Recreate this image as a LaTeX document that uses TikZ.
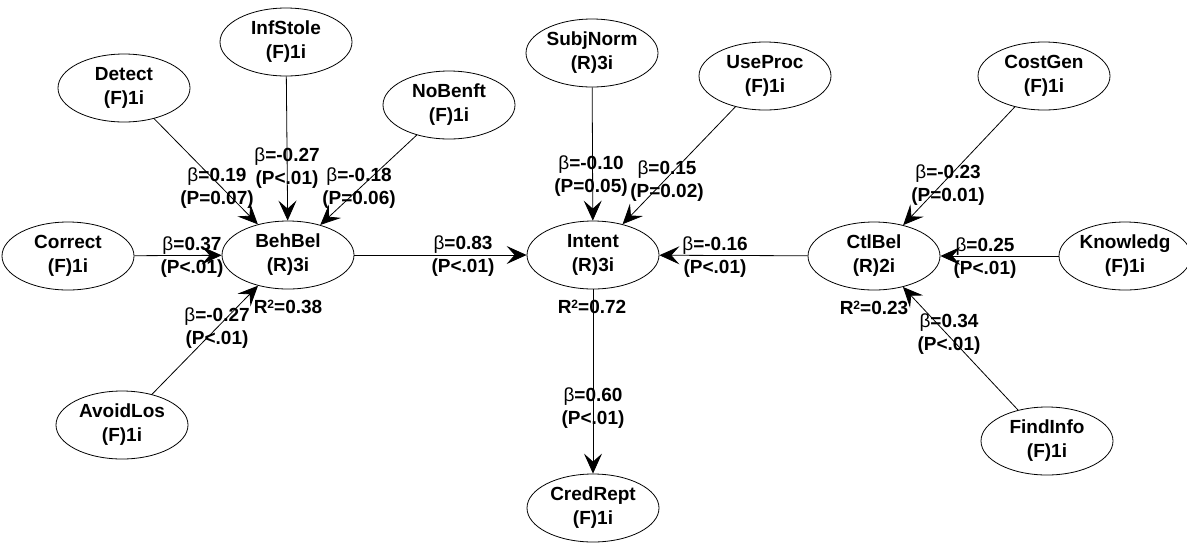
\documentclass[tikz,border=0pt]{standalone}
\usepackage{fontspec}
\setmainfont{Liberation Sans}
\usetikzlibrary{shapes.geometric,arrows.meta}
% beta in regular weight inside bold labels
\newcommand{\betasym}{{\mdseries β}}
% bold R squared
\newcommand{\rsq}{R\raisebox{0.55ex}{\fontsize{12}{12}\selectfont 2}}
\begin{document}
\begin{tikzpicture}[x=1pt,y=-1pt,
  construct/.style={ellipse,draw=black,line width=0.8pt,minimum width=132pt,
    minimum height=68pt,inner sep=0pt,align=center,
    font=\fontsize{19}{24}\selectfont\bfseries},
  effect/.style={draw=black,line width=0.8pt,
    -{Stealth[length=20pt,width=18pt,inset=8pt]}},
  coef/.style={align=center,inner sep=0pt,
    font=\fontsize{19}{23}\selectfont\bfseries},
]
\useasboundingbox (0,0) rectangle (1187,542);

% constructs
\node[construct] (detect)   at (124,88)   {Detect\\(F)1i};
\node[construct] (infstole) at (286,42)   {InfStole\\(F)1i};
\node[construct] (nobenft)  at (449,105)  {NoBenft\\(F)1i};
\node[construct] (correct)  at (68,256)   {Correct\\(F)1i};
\node[construct] (behbel)   at (288,255)  {BehBel\\(R)3i};
\node[construct] (avoidlos) at (122,425)  {AvoidLos\\(F)1i};
\node[construct] (subjnorm) at (592,53)   {SubjNorm\\(R)3i};
\node[construct] (useproc)  at (765,76)   {UseProc\\(F)1i};
\node[construct] (intent)   at (593,255)  {Intent\\(R)3i};
\node[construct] (credrept) at (593,508)  {CredRept\\(F)1i};
\node[construct] (costgen)  at (1044,76)  {CostGen\\(F)1i};
\node[construct] (ctlbel)   at (874,256)  {CtlBel\\(R)2i};
\node[construct] (knowledg) at (1125,256) {Knowledg\\(F)1i};
\node[construct] (findinfo) at (1047,441) {FindInfo\\(F)1i};

% structural paths
\draw[effect] (detect)   -- (behbel);
\draw[effect] (infstole) -- (behbel);
\draw[effect] (nobenft)  -- (behbel);
\draw[effect] (correct)  -- (behbel);
\draw[effect] (avoidlos) -- (behbel);
\draw[effect] (behbel)   -- (intent);
\draw[effect] (subjnorm) -- (intent);
\draw[effect] (useproc)  -- (intent);
\draw[effect] (ctlbel)   -- (intent);
\draw[effect] (intent)   -- (credrept);
\draw[effect] (costgen)  -- (ctlbel);
\draw[effect] (knowledg) -- (ctlbel);
\draw[effect] (findinfo) -- (ctlbel);

% path coefficients
\node[coef] (cdetect)   at (217,188) {\betasym=0.19\\(P=0.07)};
\node[coef] (cinfstole) at (287,168) {\betasym=-0.27\\(P<.01)};
\node[coef] (cnobenft)  at (359,188) {\betasym=-0.18\\(P=0.06)};
\node[coef] (ccorrect)  at (192,257) {\betasym=0.37\\(P<.01)};
\node[coef] (cavoidlos) at (217,328) {\betasym=-0.27\\(P<.01)};
\node[coef] (cbehbel)   at (463,256) {\betasym=0.83\\(P<.01)};
\node[coef] (csubjnorm) at (591,176) {\betasym=-0.10\\(P=0.05)};
\node[coef] (cuseproc)  at (667,181) {\betasym=0.15\\(P=0.02)};
\node[coef] (cctlbel)   at (715,257) {\betasym=-0.16\\(P<.01)};
\node[coef] (cintent)   at (593,408) {\betasym=0.60\\(P<.01)};
\node[coef] (ccostgen)  at (948,185) {\betasym=-0.23\\(P=0.01)};
\node[coef] (cknowledg) at (985,258) {\betasym=0.25\\(P<.01)};
\node[coef] (cfindinfo) at (949,334) {\betasym=0.34\\(P<.01)};

% explained variance
\node[coef] (rbehbel) at (288,307) {\rsq=0.38};
\node[coef] (rintent) at (592,307) {\rsq=0.72};
\node[coef] (rctlbel) at (874,308) {\rsq=0.23};
\end{tikzpicture}
\end{document}
